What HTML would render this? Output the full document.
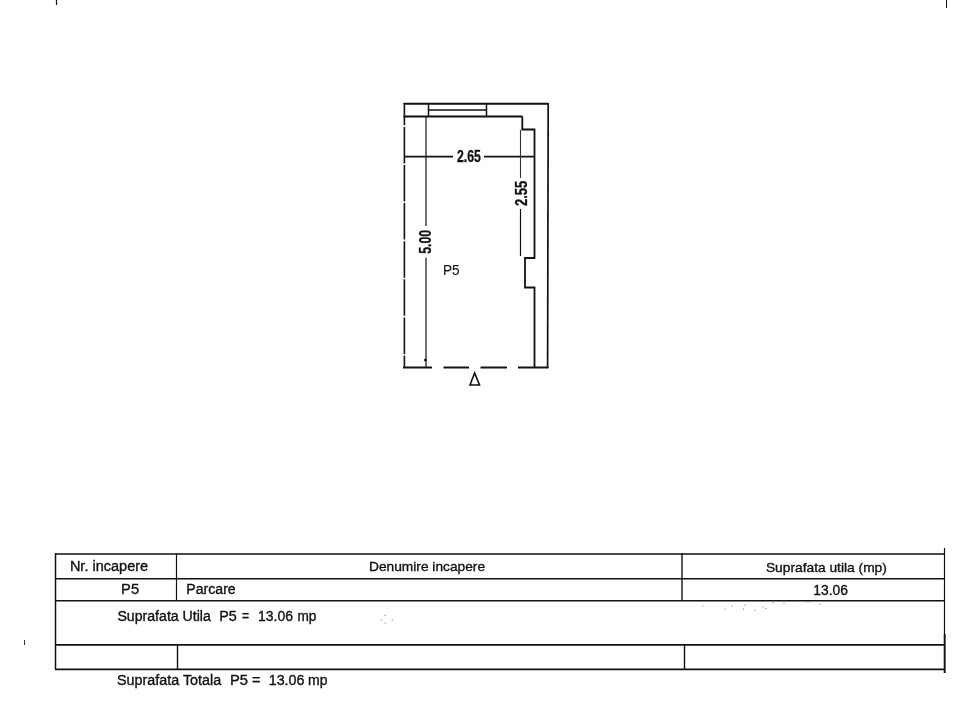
<!DOCTYPE html>
<html><head><meta charset="utf-8">
<style>
html,body{margin:0;padding:0;background:#fff;width:977px;height:720px;overflow:hidden}
svg{position:absolute;left:0;top:0;will-change:transform}
text{font-family:"Liberation Sans",sans-serif;fill:#111;stroke:#111;stroke-width:0.35px}
</style></head><body>
<svg width="977" height="720" viewBox="0 0 977 720">
<g stroke="#111" fill="none" stroke-linecap="butt">
  <line x1="56.5" y1="0" x2="56.5" y2="5" stroke-width="1.2"/>
  <line x1="946.5" y1="0" x2="946.5" y2="8" stroke-width="1"/>
  <line x1="403.5" y1="103.7" x2="548" y2="103.7" stroke-width="2"/>
  <line x1="403.5" y1="116.5" x2="522.5" y2="116.5" stroke-width="2"/>
  <line x1="428.5" y1="103.5" x2="428.5" y2="116.5" stroke-width="1.5"/>
  <line x1="486.5" y1="103.5" x2="486.5" y2="116.5" stroke-width="1.5"/>
  <line x1="428.5" y1="110" x2="486.5" y2="110" stroke-width="1.5"/>
  <line x1="404.4" y1="103" x2="404.4" y2="368" stroke-width="1.6" stroke-dasharray="36.5 1.6" stroke-dashoffset="14.2"/>
  <line x1="548.2" y1="103" x2="547.6" y2="368" stroke-width="1.7"/>
  <polyline points="522.3,116.5 522.3,129.5 534.5,129.5 534.5,258 525,258 525,287.5 534.5,287.5 534.5,368" stroke-width="1.8"/>
  <line x1="403" y1="367.5" x2="432" y2="367.5" stroke-width="2"/>
  <line x1="443.5" y1="367.5" x2="469" y2="367.5" stroke-width="2"/>
  <line x1="480.5" y1="367.5" x2="507" y2="367.5" stroke-width="2"/>
  <line x1="518" y1="367.5" x2="548.5" y2="367.5" stroke-width="2"/>
  <line x1="426" y1="117" x2="426" y2="226" stroke-width="1.2"/>
  <line x1="426" y1="257.8" x2="426" y2="367" stroke-width="1.2"/>
  <circle cx="425.5" cy="360" r="1.5" fill="#111" stroke="none"/>
  <line x1="404" y1="156.6" x2="453" y2="156.6" stroke-width="1.6"/>
  <line x1="484" y1="156.6" x2="534.5" y2="156.6" stroke-width="1.6"/>
  <line x1="520.5" y1="130" x2="520.5" y2="178" stroke-width="1.1" stroke="#333"/>
  <line x1="520.5" y1="209" x2="520.5" y2="256" stroke-width="1.2"/>
  <polygon points="474.6,373 470,385 479.5,385" stroke-width="1.6" stroke-linejoin="miter"/>
</g>
<g stroke="#111" fill="none">
  <line x1="55" y1="554.1" x2="945" y2="554.1" stroke-width="1.5"/>
  <line x1="55" y1="578.8" x2="945" y2="578.8" stroke-width="1.4"/>
  <line x1="55" y1="600.7" x2="945" y2="600.7" stroke-width="1.6"/>
  <line x1="55" y1="644.8" x2="945" y2="644.8" stroke-width="1.8"/>
  <line x1="55" y1="669.3" x2="945" y2="669.3" stroke-width="1.8"/>
  <line x1="55.5" y1="553" x2="55.5" y2="669.5" stroke-width="1.5"/>
  <line x1="944.5" y1="548" x2="944.5" y2="673" stroke-width="1.2"/>
  <line x1="944.7" y1="634" x2="944.7" y2="673" stroke-width="1.8"/>
  <line x1="176.5" y1="553" x2="176.5" y2="600" stroke-width="1.2"/>
  <line x1="682" y1="553" x2="682" y2="600" stroke-width="1.4"/>
  <line x1="177.5" y1="644" x2="177.5" y2="669" stroke-width="1.4"/>
  <line x1="684.5" y1="644" x2="684.5" y2="669" stroke-width="1.4"/>
</g>
<text id="t1" x="69.90" y="570.8" font-size="14" font-weight="normal" textLength="78.23" lengthAdjust="spacingAndGlyphs">Nr. incapere</text>
<text id="t2" x="369.00" y="571.2" font-size="13.6" font-weight="normal" textLength="116.08" lengthAdjust="spacingAndGlyphs">Denumire incapere</text>
<text id="t3" x="765.90" y="571.6" font-size="13.2" font-weight="normal" textLength="120.97" lengthAdjust="spacingAndGlyphs">Suprafata utila (mp)</text>
<text id="t4" x="121.10" y="594" font-size="14" font-weight="normal" textLength="18.03" lengthAdjust="spacingAndGlyphs">P5</text>
<text id="t5" x="186.30" y="594.4" font-size="14" font-weight="normal" textLength="49.40" lengthAdjust="spacingAndGlyphs">Parcare</text>
<text id="t6" x="813.30" y="594.5" font-size="14" font-weight="normal" textLength="34.64" lengthAdjust="spacingAndGlyphs">13.06</text>
<text id="u1" x="117.40" y="620.8" font-size="14" font-weight="normal" textLength="93.48" lengthAdjust="spacingAndGlyphs">Suprafata Utila</text>
<text id="u2" x="219.30" y="620.8" font-size="14" font-weight="normal" textLength="17.55" lengthAdjust="spacingAndGlyphs">P5</text>
<text id="u3" x="242.00" y="620.8" font-size="14" font-weight="normal" textLength="7.16" lengthAdjust="spacingAndGlyphs">=</text>
<text id="u4" x="258.10" y="620.8" font-size="14" font-weight="normal" textLength="34.91" lengthAdjust="spacingAndGlyphs">13.06</text>
<text id="u5" x="297.50" y="620.8" font-size="14" font-weight="normal" textLength="18.95" lengthAdjust="spacingAndGlyphs">mp</text>
<text id="v1" x="117.00" y="685.2" font-size="14" font-weight="normal" textLength="104.17" lengthAdjust="spacingAndGlyphs">Suprafata Totala</text>
<text id="v2" x="229.90" y="685.2" font-size="14" font-weight="normal" textLength="18.02" lengthAdjust="spacingAndGlyphs">P5</text>
<text id="v3" x="252.00" y="685.2" font-size="14" font-weight="normal" textLength="8.46" lengthAdjust="spacingAndGlyphs">=</text>
<text id="v4" x="268.70" y="685.2" font-size="14" font-weight="normal" textLength="35.75" lengthAdjust="spacingAndGlyphs">13.06</text>
<text id="v5" x="308.10" y="685.2" font-size="14" font-weight="normal" textLength="19.36" lengthAdjust="spacingAndGlyphs">mp</text>
<text id="p1" x="443.00" y="275" font-size="14.5" font-weight="normal" textLength="16.68" lengthAdjust="spacingAndGlyphs" style="stroke-width:0.1px">P5</text>
<text id="d1" x="456.90" y="162" font-size="16.5" font-weight="bold" textLength="23.92" lengthAdjust="spacingAndGlyphs" style="stroke-width:0.3px">2.65</text>
<text id="d2" transform="translate(431.3,253.80) rotate(-90)" font-size="16.5" font-weight="bold" textLength="23.99" lengthAdjust="spacingAndGlyphs" style="stroke-width:0.3px">5.00</text>
<text id="d3" transform="translate(526.6,206.00) rotate(-90)" font-size="16.5" font-weight="bold" textLength="25.36" lengthAdjust="spacingAndGlyphs" style="stroke-width:0.3px">2.55</text>
<g fill="#666"><circle cx="385.1" cy="615.3" r="0.6"/><circle cx="381.4" cy="620" r="0.6"/><circle cx="385.1" cy="623" r="0.6"/><circle cx="392.3" cy="620" r="0.6"/><circle cx="745" cy="605" r="0.6"/><circle cx="743.5" cy="609" r="0.6"/><circle cx="763" cy="607" r="0.6"/><circle cx="766" cy="608.5" r="0.6"/><circle cx="725" cy="609" r="0.6"/><circle cx="773" cy="603" r="0.6"/><circle cx="784" cy="603" r="0.6"/><circle cx="820" cy="604" r="0.6"/><circle cx="808" cy="602" r="0.6"/><circle cx="703" cy="606" r="0.6"/><circle cx="755" cy="610" r="0.6"/><circle cx="732" cy="606" r="0.6"/></g>

<line x1="24.5" y1="640" x2="24.5" y2="645" stroke="#333" stroke-width="1"/>
</svg>
</body></html>
